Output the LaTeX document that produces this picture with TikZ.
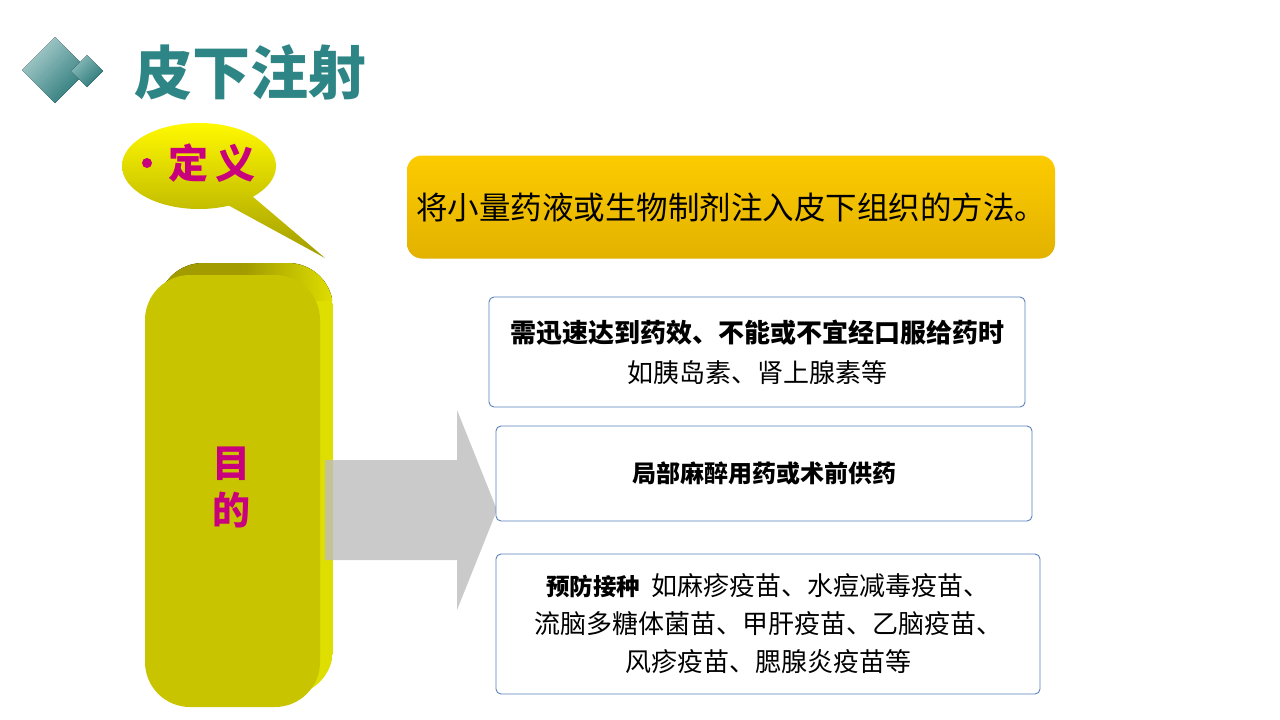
\documentclass[tikz,border=0pt]{standalone}
\usepackage{fontspec}
\setmainfont{Noto Sans CJK SC}
\usetikzlibrary{positioning}
\definecolor{titleteal}{HTML}{2E8585}
\definecolor{pinkred}{HTML}{C8007E}
\definecolor{boxblue}{HTML}{5A82BE}
\definecolor{goalfront}{HTML}{C8C400}
\definecolor{goalside}{HTML}{DEDE00}
\definecolor{goaltop}{HTML}{A29C00}
\definecolor{deftop}{HTML}{FDCB00}
\definecolor{defbottom}{HTML}{E2B200}
\begin{document}
\begin{tikzpicture}[x=1pt, y=-1pt,
  box node/.style={draw=boxblue, line width=0.9pt, rounded corners=5pt, fill=white, align=center, inner sep=0pt},
  pink node/.style={text=pinkred, font=\bfseries\fontsize{40}{47}\selectfont, align=center}]
  \tikzstyle{every node}=[font=\fontsize{26}{40}\selectfont]
  \useasboundingbox[fill=white] (0,0) rectangle (1280,720);

  % title
  \fill[top color=titleteal!40, bottom color=titleteal!90!black, shading angle=45] (55,37) -- (88,70) -- (55,103) -- (22,70) -- cycle;
  \fill[top color=titleteal!55, bottom color=titleteal!90!black, shading angle=45] (87,55) -- (103,71) -- (87,87) -- (71,71) -- cycle;
  \node[text=titleteal, font=\bfseries\fontsize{58}{58}\selectfont] (1) at (250,72) {皮下注射};

  % bubble
  \path[top color=yellow!95!orange, bottom color=goaltop] (199,166) ellipse (77 and 43)
    (252,196) -- (325,258) -- (226,204) -- cycle;
  \node[pink node] (2) at (212,163) {定\,义};
  \fill[pinkred] (147,163) circle (5);

  % definition
  \node[rounded corners=15pt, top color=deftop, bottom color=defbottom,
    minimum width=648, minimum height=103, inner sep=0pt, font=\fontsize{31.5}{31.5}\selectfont] (3) at (731,207)
    {将小量药液或生物制剂注入皮下组织的方法。};

  % goal block
  \begin{scope}
    \clip[rounded corners=45pt] (158,263) rectangle (333,695);
    \fill[goalside] (158,263) rectangle (333,695);
    \fill[left color=goaltop, right color=goalside, middle color=goaltop] (158,263) rectangle (333,300);
  \end{scope}
  \node[fill=goalfront, rounded corners=45pt, minimum width=175, minimum height=432, inner sep=0pt] (4) at (232.5,491) {};
  \node[pink node, font=\bfseries\fontsize{38}{47}\selectfont] (5) at (231,487) {目\\的};

  % arrow
  \fill[black!26, opacity=0.8] (325,460) -- (457,460) -- (457,410) -- (497,510) -- (457,610) -- (457,560) -- (325,560) -- cycle;

  % purposes
  \node[box node, minimum width=536, minimum height=110] (6) at (757,352)
    {\textbf{需迅速达到药效、不能或不宜经口服给药时}\\如胰岛素、肾上腺素等};
  \node[box node, minimum width=536, minimum height=95, font=\bfseries\fontsize{24}{30}\selectfont] (7) at (764,473.5)
    {局部麻醉用药或术前供药};
  \node[box node, minimum width=544, minimum height=140, font=\fontsize{26}{38}\selectfont] (8) at (768,624)
    {{\bfseries\fontsize{23.5}{38}\selectfont 预防接种}\ \ 如麻疹疫苗、水痘减毒疫苗、\\流脑多糖体菌苗、甲肝疫苗、乙脑疫苗、\\风疹疫苗、腮腺炎疫苗等};
\end{tikzpicture}
\end{document}
